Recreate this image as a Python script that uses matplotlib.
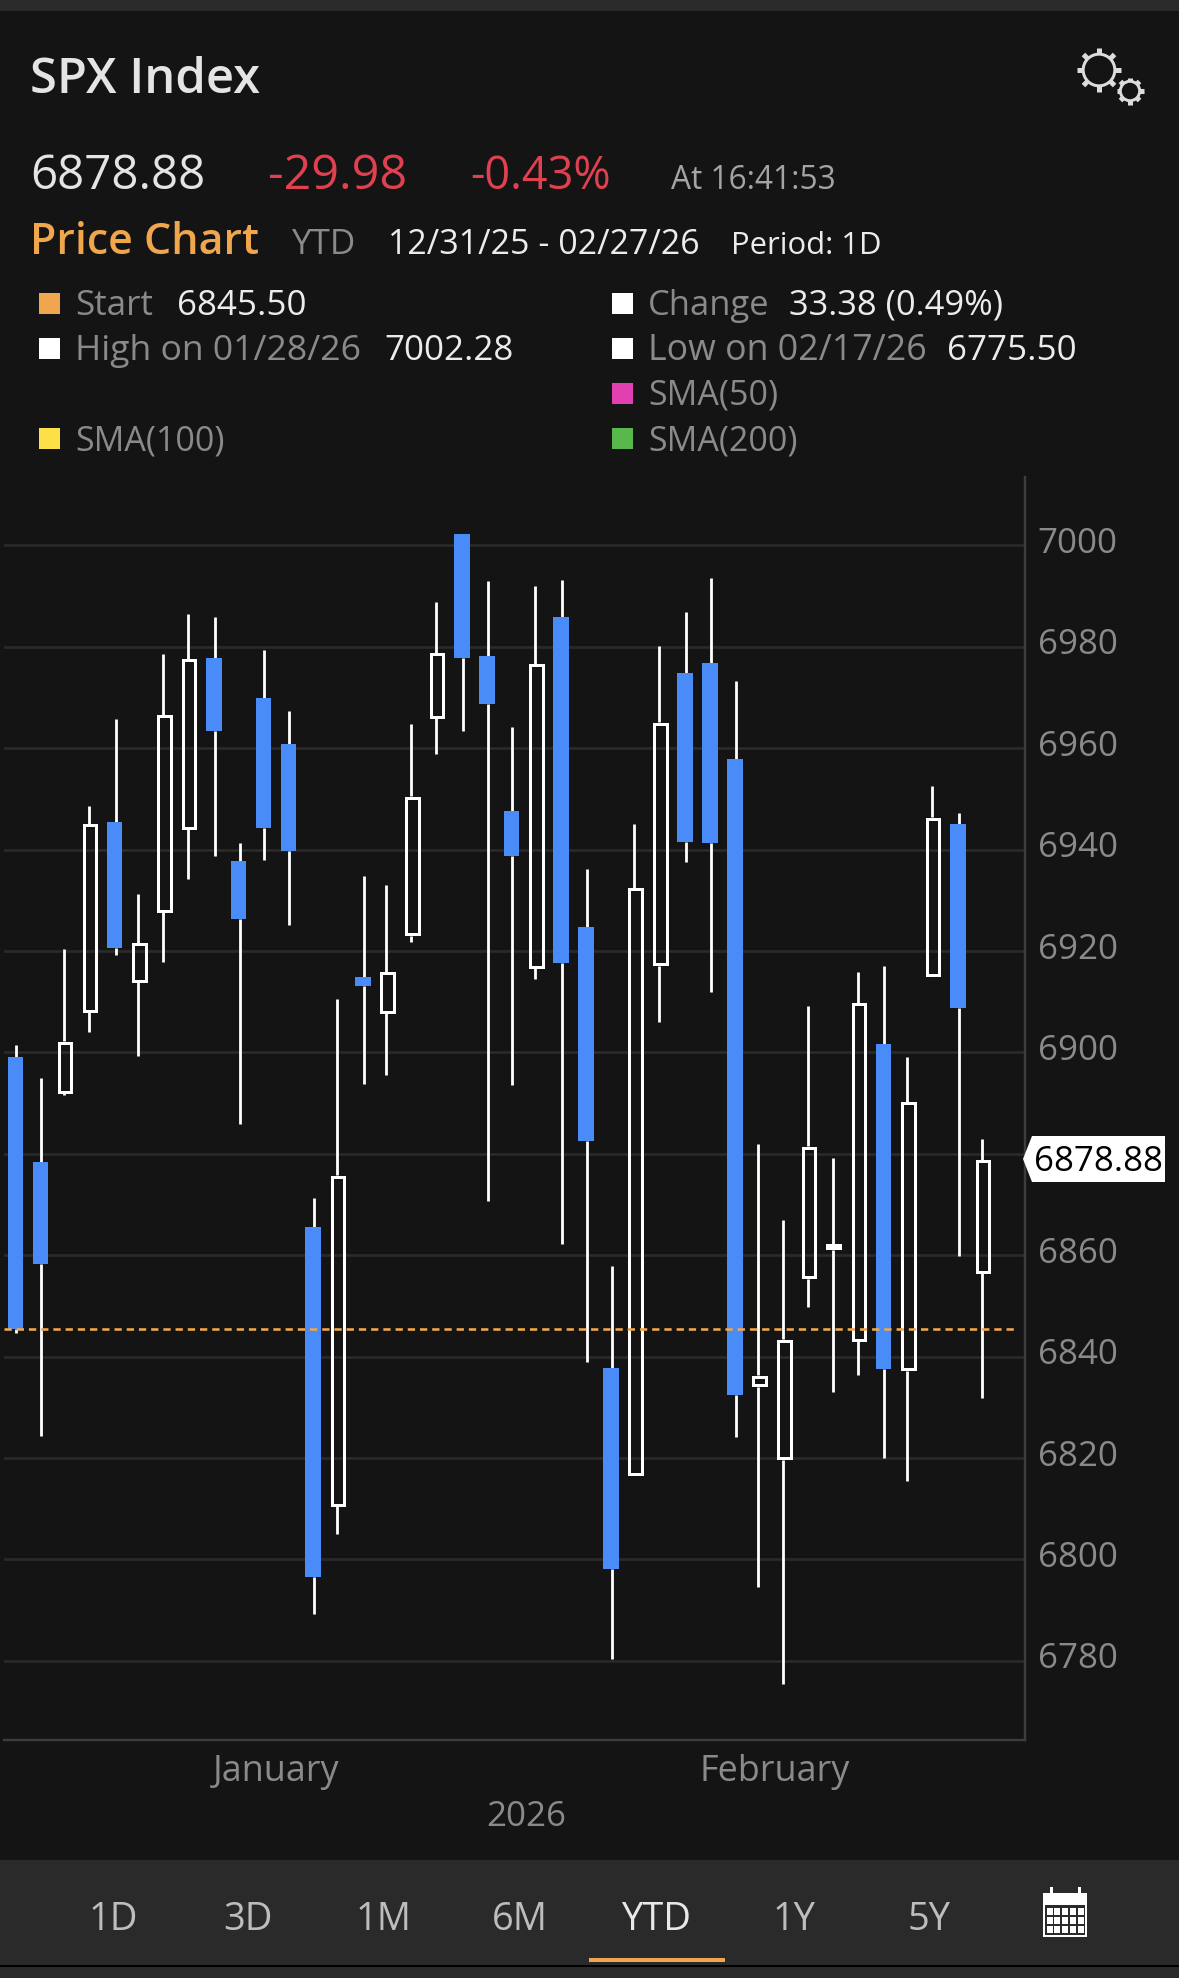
import numpy as np
import matplotlib
matplotlib.use("Agg")
import matplotlib.pyplot as plt
from matplotlib.patches import Rectangle, Polygon, Circle
from matplotlib.transforms import ScaledTranslation

plt.rcParams["font.family"] = ["Open Sans", "DejaVu Sans"]

opens = [6899.2, 6878.4, 6892.0, 6907.9, 6945.4, 6913.9, 6927.7, 6944.0, 6977.8, 6937.8,
         6969.9, 6960.9, 6865.6, 6810.5, 6914.8, 6907.7, 6923.0, 6965.9, 7002.28, 6978.1,
         6947.6, 6916.6, 6985.9, 6924.8, 6837.7, 6816.5, 6917.1, 6974.9, 6976.8, 6957.9,
         6834.1, 6819.7, 6855.4, 6861.0, 6843.0, 6901.6, 6837.2, 6915.0, 6945.1, 6856.5]
closes = [6845.5, 6858.2, 6902.2, 6945.1, 6920.7, 6921.6, 6966.6, 6977.6, 6963.5, 6926.4,
          6944.3, 6939.8, 6796.6, 6875.8, 6913.1, 6915.9, 6950.5, 6978.8, 6977.9, 6968.8,
          6938.8, 6976.7, 6917.6, 6882.5, 6798.2, 6932.5, 6965.1, 6941.6, 6941.3, 6832.5,
          6836.3, 6843.4, 6881.5, 6862.2, 6909.8, 6837.5, 6890.3, 6946.4, 6908.7, 6878.88]
highs = [6901.4, 6894.9, 6920.4, 6948.7, 6965.7, 6931.3, 6978.5, 6986.4, 6985.9, 6941.3,
         6979.4, 6967.4, 6871.3, 6910.5, 6934.8, 6933.0, 6964.7, 6988.8, 7002.28, 6992.9,
         6964.2, 6992.0, 6993.1, 6936.1, 6857.9, 6945.0, 6980.2, 6986.9, 6993.5, 6973.3,
         6882.0, 6867.0, 6909.2, 6879.2, 6915.9, 6917.0, 6899.2, 6952.5, 6947.3, 6883.0]
lows = [6844.6, 6824.3, 6891.6, 6904.0, 6919.2, 6899.4, 6917.8, 6934.2, 6938.8, 6885.8,
        6938.0, 6925.1, 6789.3, 6805.0, 6893.7, 6895.6, 6921.7, 6958.9, 6963.5, 6870.8,
        6893.5, 6914.4, 6862.2, 6838.9, 6780.3, 6816.5, 6906.0, 6937.6, 6912.0, 6824.1,
        6794.6, 6775.5, 6849.8, 6833.1, 6836.4, 6820.0, 6815.5, 6915.0, 6859.8, 6831.8]

yticks = [6780, 6800, 6820, 6840, 6860, 6880, 6900, 6920, 6940, 6960, 6980, 7000]
ytick_labels = ["6780", "6800", "6820", "6840", "6860", "", "6900", "6920", "6940", "6960", "6980", "7000"]
month_pos = [10.5, 30.6]
month_labels = ["January", "February"]
start_price = 6845.5
last_price = 6878.88
periods = ["1D", "3D", "1M", "6M", "YTD", "1Y", "5Y"]

BG = "#141414"
BAR = "#2a2a2a"
BLUE = "#4a8cf7"
ORANGE = "#f0a64c"
GREY = "#8a8a8a"
WHITE = "#ececec"
RED = "#e0404f"
W, H = 1179, 1978


def fs(pixels):
    return pixels * 0.72


def plot_candles(ax):
    x = np.arange(len(opens))
    o = np.array(opens)
    c = np.array(closes)
    up = c >= o
    top = np.maximum(o, c)
    bot = np.minimum(o, c)
    doji = np.abs(c - o) < 1.5
    inset = 0.28

    wick_x = x + np.where(up, -0.045, 0.035)
    ax.vlines(wick_x, top, highs, color="white", lw=fs(2.8), zorder=3)
    ax.vlines(wick_x, lows, bot, color="white", lw=fs(2.8), zorder=3)

    # down days are solid, up days hollow so the grid shows through
    ax.bar(x[~up], (top - bot)[~up], bottom=bot[~up], width=0.625,
           color=BLUE, zorder=4)
    hollow = up & ~doji
    ax.bar(x[hollow], (top - bot)[hollow] - 2 * inset, bottom=bot[hollow] + inset, width=0.5,
           facecolor="none", edgecolor="white", lw=fs(3), zorder=4)
    flat = up & doji
    ax.bar(x[flat], (top - bot)[flat], bottom=bot[flat], width=0.625,
           color="white", zorder=4)


def plot_chart(fig):
    ax = fig.add_axes([4 / W, 1 - 1740 / H, 1021 / W, 1263 / H])
    ax.set_facecolor(BG)
    ax.set_xlim(-0.464, 40.70)
    ax.set_ylim(6764.4, 7013.5)

    ax.set_yticks(yticks)
    ax.set_yticklabels(ytick_labels)
    ax.set_xticks(month_pos)
    ax.set_xticklabels(month_labels)
    ax.yaxis.tick_right()
    ax.tick_params(axis="y", length=0, pad=fs(12.5), labelsize=fs(35), labelcolor=GREY)
    ax.tick_params(axis="x", length=0, pad=fs(14), labelsize=fs(36), labelcolor=GREY)
    ax.grid(axis="y", color="#2a2a2a", lw=fs(2.7))
    ax.set_axisbelow(True)

    offset = ScaledTranslation(0, 4 / 72, fig.dpi_scale_trans)
    for label in ax.get_yticklabels():
        label.set_transform(label.get_transform() + offset)

    for side in ["top", "left"]:
        ax.spines[side].set_visible(False)
    for side in ["right", "bottom"]:
        ax.spines[side].set_color("#3d3d3d")
        ax.spines[side].set_linewidth(fs(2.4))

    plot_candles(ax)

    ax.plot([ax.get_xlim()[0], 40.4], [start_price, start_price], color=ORANGE,
            lw=fs(2.6), dashes=(2.8, 1.9), zorder=5)
    return ax


def draw_gear(ui, cx, cy, r, teeth):
    ui.add_patch(Circle((cx, cy), r * 0.72, fill=False, ec="#dcdcdc", lw=fs(3)))
    for a in np.linspace(0, 2 * np.pi, teeth, endpoint=False):
        ui.plot([cx + r * 0.72 * np.cos(a), cx + r * np.cos(a)],
                [cy + r * 0.72 * np.sin(a), cy + r * np.sin(a)],
                color="#dcdcdc", lw=fs(5), solid_capstyle="butt")


def draw_calendar(ui):
    ui.add_patch(Rectangle((1043, 1893), 44, 44, fc="white", ec="none"))
    for tab in [1051, 1079]:
        ui.add_patch(Rectangle((tab - 1, 1887), 2.5, 8, fc="white", ec="none"))
    ui.add_patch(Rectangle((1045, 1905), 40, 30, fc=BAR, ec="none"))
    for col in range(5):
        for row in range(3):
            ui.add_patch(Rectangle((1046.5 + col * 7.8, 1907.5 + row * 9), 6, 7,
                                   fc="white", ec="none"))


def plot_header(ui):
    ui.add_patch(Rectangle((0, 0), W, 11, fc=BAR, ec="none"))
    draw_gear(ui, 1099, 70, 22, 8)
    draw_gear(ui, 1130, 91, 13.5, 8)

    rows = [
        (30, 93, "SPX Index", 49, "#e4e4e4", "semibold"),
        (30, 189, "6878.88", 47.5, "#e4e4e4", "normal"),
        (268, 189, "-29.98", 48.5, RED, "normal"),
        (470, 189, "-0.43%", 45, RED, "normal"),
        (671, 189, "At 16:41:53", 31.7, "#a4a4a4", "normal"),
        (30, 254, "Price Chart", 43, ORANGE, "semibold"),
        (292, 254, "YTD", 35, GREY, "normal"),
        (388, 254, "12/31/25 - 02/27/26", 34, WHITE, "normal"),
        (731, 254, "Period: 1D", 31, WHITE, "normal"),
        (75, 315, "Start", 35, GREY, "normal"),
        (177, 315, "6845.50", 35, WHITE, "normal"),
        (648, 315, "Change", 34.5, GREY, "normal"),
        (789, 315, "33.38 (0.49%)", 34.5, WHITE, "normal"),
        (75, 360, "High on 01/28/26", 35.5, GREY, "normal"),
        (384, 360, "7002.28", 35, WHITE, "normal"),
        (648, 360, "Low on 02/17/26", 35.8, GREY, "normal"),
        (947, 360, "6775.50", 35, WHITE, "normal"),
        (648, 405, "SMA(50)", 34, GREY, "normal"),
        (75, 450, "SMA(100)", 34, GREY, "normal"),
        (648, 450, "SMA(200)", 34, GREY, "normal"),
    ]
    for x, y, s, size, color, weight in rows:
        ui.text(x, y, s, fontsize=fs(size), color=color, fontweight=weight,
                ha="left", va="baseline")

    swatches = [(39, 293, ORANGE), (612, 293, "white"), (39, 338, "white"),
                (612, 338, "white"), (612, 383, "#e040b0"), (39, 428, "#fde047"),
                (612, 428, "#58b84c")]
    for x, y, color in swatches:
        ui.add_patch(Rectangle((x, y), 21, 21, fc=color, ec="none"))


def plot_footer(ui):
    ui.text(526, 1826, "2026", fontsize=fs(35), color=GREY, ha="center", va="baseline")

    ui.add_patch(Rectangle((0, 1860), W, 118, fc=BAR, ec="none"))
    ui.add_patch(Rectangle((0, 1965), W, 1.5, fc="#000000", ec="none"))
    centers = [113, 248, 384, 520, 656, 794, 929]
    for x, s in zip(centers, periods):
        color = "#e8e8e8" if s == "YTD" else "#bdbdbd"
        ui.text(x, 1930, s, fontsize=fs(38), color=color, ha="center", va="baseline")
    ui.add_patch(Rectangle((589, 1958), 136, 4, fc=ORANGE, ec="none"))
    draw_calendar(ui)


def plot_price_tag(ui):
    ui.add_patch(Polygon([(1023, 1159), (1032, 1136), (1165, 1136), (1165, 1182), (1032, 1182)],
                         closed=True, fc="white", ec="none", zorder=6))
    ui.text(1034, 1171, f"{last_price:.2f}", fontsize=fs(35), color="black",
            ha="left", va="baseline", zorder=7)


fig = plt.figure(figsize=(W / 100, H / 100), dpi=100, facecolor=BG)
ax = plot_chart(fig)

ui = fig.add_axes([0, 0, 1, 1], zorder=5)
ui.set_xlim(0, W)
ui.set_ylim(H, 0)
ui.axis("off")

plot_header(ui)
plot_footer(ui)
plot_price_tag(ui)

fig.savefig("out.png", dpi=100, facecolor=BG)
